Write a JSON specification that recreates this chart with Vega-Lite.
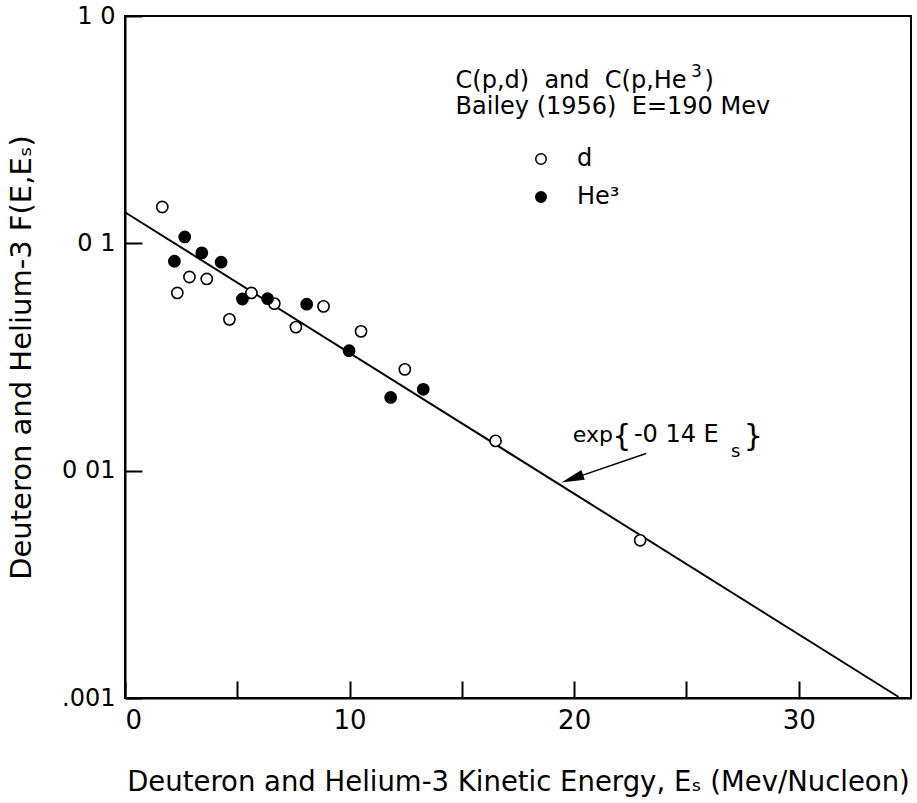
{
  "$schema": "https://vega.github.io/schema/vega-lite/v6.json",
  "width": 786,
  "height": 682,
  "autosize": {"type": "none"},
  "padding": {"left": 125, "top": 16, "right": 6, "bottom": 105},
  "background": "white",
  "config": {
    "font": "DejaVu Sans",
    "view": {"stroke": "black", "strokeWidth": 2},
    "axis": {
      "domainColor": "black", "domainWidth": 2,
      "tickColor": "black", "tickWidth": 2,
      "labelColor": "black", "titleColor": "black",
      "grid": false,
      "labelFont": "DejaVu Sans", "titleFont": "DejaVu Sans",
      "titleFontWeight": "normal"
    },
    "legend": {"labelFont": "DejaVu Sans", "labelColor": "black"}
  },
  "datasets": {
    "points": [
      {"E": 1.66, "F": 0.1445, "particle": "d"},
      {"E": 2.33, "F": 0.0605, "particle": "d"},
      {"E": 2.87, "F": 0.0711, "particle": "d"},
      {"E": 3.64, "F": 0.0697, "particle": "d"},
      {"E": 4.65, "F": 0.0463, "particle": "d"},
      {"E": 5.63, "F": 0.0605, "particle": "d"},
      {"E": 6.65, "F": 0.0543, "particle": "d"},
      {"E": 7.61, "F": 0.0428, "particle": "d"},
      {"E": 8.84, "F": 0.0528, "particle": "d"},
      {"E": 10.51, "F": 0.0410, "particle": "d"},
      {"E": 12.46, "F": 0.0279, "particle": "d"},
      {"E": 16.50, "F": 0.01352, "particle": "d"},
      {"E": 22.94, "F": 0.00494, "particle": "d"},
      {"E": 2.20, "F": 0.0834, "particle": "He3"},
      {"E": 2.66, "F": 0.1067, "particle": "He3"},
      {"E": 3.42, "F": 0.0908, "particle": "He3"},
      {"E": 4.28, "F": 0.0826, "particle": "He3"},
      {"E": 5.23, "F": 0.0569, "particle": "He3"},
      {"E": 6.35, "F": 0.0571, "particle": "He3"},
      {"E": 8.09, "F": 0.0540, "particle": "He3"},
      {"E": 9.98, "F": 0.0337, "particle": "He3"},
      {"E": 11.83, "F": 0.0210, "particle": "He3"},
      {"E": 13.28, "F": 0.0228, "particle": "He3"}
    ],
    "fit": [
      {"E": 0, "F": 0.137},
      {"E": 34.45, "F": 0.00101}
    ],
    "one": [{}]
  },
  "layer": [
    {
      "data": {"name": "fit"},
      "mark": {"type": "line", "color": "black", "strokeWidth": 2},
      "encoding": {
        "x": {
          "field": "E", "type": "quantitative",
          "scale": {"domain": [0, 35], "nice": false, "zero": false},
          "axis": {
            "values": [0, 5, 10, 15, 20, 25, 30],
            "labelExpr": "datum.value % 10 == 0 ? datum.label : ''",
            "tickSize": -17,
            "labelFontSize": 26,
            "labelPadding": 26,
            "title": "Deuteron and Helium-3 Kinetic Energy, Eₛ (Mev/Nucleon)",
            "titleFontSize": 27.5,
            "titleY": 92,
            "titleBaseline": "alphabetic"
          }
        },
        "y": {
          "field": "F", "type": "quantitative",
          "scale": {"type": "log", "domain": [0.001, 1], "nice": false},
          "axis": {
            "values": [0.001, 0.01, 0.1, 1],
            "labelExpr": "datum.value >= 0.5 ? '1 0' : datum.value >= 0.05 ? '0 1' : datum.value >= 0.005 ? '0 01' : '.001'",
            "tickSize": -17,
            "labelFontSize": 24,
            "labelPadding": 27,
            "title": "Deuteron and Helium-3 F(E,Eₛ)",
            "titleFontSize": 29,
            "titleX": -95,
            "titleY": 341,
            "titleBaseline": "alphabetic"
          }
        }
      }
    },
    {
      "data": {"name": "points"},
      "mark": {"type": "point", "shape": "circle", "filled": true, "stroke": "black", "strokeWidth": 1.6, "size": 125, "opacity": 1},
      "encoding": {
        "x": {"field": "E", "type": "quantitative"},
        "y": {"field": "F", "type": "quantitative"},
        "fill": {
          "field": "particle", "type": "nominal",
          "scale": {"domain": ["d", "He3"], "range": ["white", "black"]},
          "legend": {
            "orient": "none", "legendX": 404, "legendY": 131,
            "title": null, "padding": 0,
            "symbolType": "circle", "symbolSize": 110,
            "symbolStrokeColor": "black", "symbolStrokeWidth": 1.5,
            "labelFontSize": 24, "labelOffset": 24, "rowPadding": 14,
            "labelExpr": "datum.value == 'He3' ? 'He³' : 'd'"
          }
        }
      }
    },
    {
      "data": {"name": "one"},
      "mark": {"type": "text", "text": "C(p,d)\u00a0 and\u00a0 C(p,He", "align": "left", "baseline": "alphabetic", "fontSize": 24, "color": "black"},
      "encoding": {"x": {"datum": 14.72}, "y": {"datum": 0.48}}
    },
    {
      "data": {"name": "one"},
      "mark": {"type": "text", "text": "3", "align": "left", "baseline": "alphabetic", "fontSize": 17, "color": "black"},
      "encoding": {"x": {"datum": 25.2}, "y": {"datum": 0.54}}
    },
    {
      "data": {"name": "one"},
      "mark": {"type": "text", "text": ")", "align": "left", "baseline": "alphabetic", "fontSize": 24, "color": "black"},
      "encoding": {"x": {"datum": 25.8}, "y": {"datum": 0.48}}
    },
    {
      "data": {"name": "one"},
      "mark": {"type": "text", "text": "Bailey (1956)\u00a0 E=190 Mev", "align": "left", "baseline": "alphabetic", "fontSize": 24, "color": "black"},
      "encoding": {"x": {"datum": 14.72}, "y": {"datum": 0.37}}
    },
    {
      "data": {"name": "one"},
      "mark": {"type": "text", "text": "exp", "align": "left", "baseline": "alphabetic", "fontSize": 22, "color": "black"},
      "encoding": {"x": {"datum": 19.94}, "y": {"datum": 0.01336}}
    },
    {
      "data": {"name": "one"},
      "mark": {"type": "text", "text": "{", "align": "left", "baseline": "alphabetic", "fontSize": 30, "color": "black"},
      "encoding": {"x": {"datum": 21.7}, "y": {"datum": 0.0128}}
    },
    {
      "data": {"name": "one"},
      "mark": {"type": "text", "text": "-0 14 E", "align": "left", "baseline": "alphabetic", "fontSize": 24, "color": "black"},
      "encoding": {"x": {"datum": 22.66}, "y": {"datum": 0.01336}}
    },
    {
      "data": {"name": "one"},
      "mark": {"type": "text", "text": "s", "align": "left", "baseline": "alphabetic", "fontSize": 18, "color": "black"},
      "encoding": {"x": {"datum": 26.98}, "y": {"datum": 0.01146}}
    },
    {
      "data": {"name": "one"},
      "mark": {"type": "text", "text": "}", "align": "left", "baseline": "alphabetic", "fontSize": 30, "color": "black"},
      "encoding": {"x": {"datum": 27.55}, "y": {"datum": 0.0128}}
    },
    {
      "data": {"name": "one"},
      "mark": {"type": "rule", "color": "black", "strokeWidth": 1.5},
      "encoding": {"x": {"datum": 23.2}, "y": {"datum": 0.0119}, "x2": {"datum": 19.9}, "y2": {"datum": 0.0092}}
    },
    {
      "data": {"name": "one"},
      "mark": {"type": "point", "shape": "M 0 0 L 2 -0.45 L 2 0.45 Z", "filled": true, "color": "black", "size": 529, "angle": 341, "opacity": 1},
      "encoding": {"x": {"datum": 19.43}, "y": {"datum": 0.00888}}
    }
  ]
}
